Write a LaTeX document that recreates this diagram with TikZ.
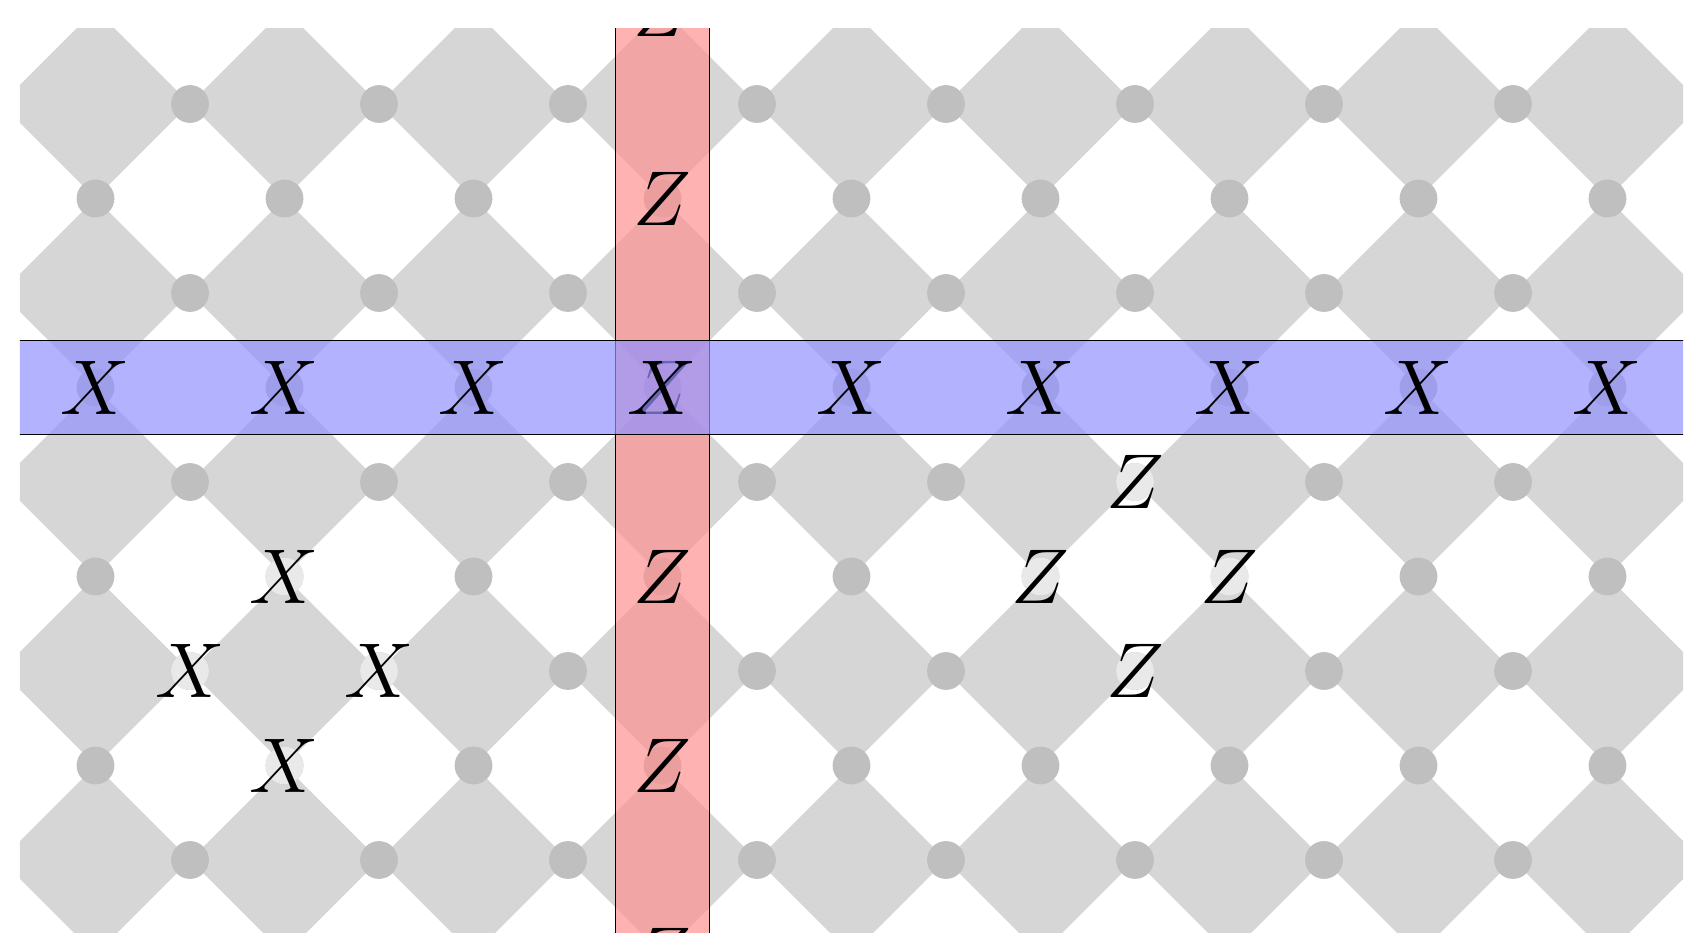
\documentclass[tikz,border=0pt]{standalone}
\usepackage{amsmath}
\usepackage{tikz}
\usetikzlibrary{positioning,calc}

\definecolor{facegray}{RGB}{214,214,214}
\definecolor{qubitgray}{RGB}{191,191,191}
\definecolor{markgray}{RGB}{233,233,233}
\definecolor{zstrip}{RGB}{255,145,145}
\definecolor{xstrip}{RGB}{145,145,255}

\newcommand{\pop}[1]{\scalebox{0.94}{\Huge$#1$}}

\begin{document}
\begin{tikzpicture}[
    x=1cm, y=-1cm,
    qubit/.style={circle, fill=qubitgray, minimum size=4mm, inner sep=0pt},
    markqubit/.style={circle, fill=markgray, minimum size=4mm, inner sep=0pt},
    pauli/.style={inner sep=0pt},
    strip/.style={draw=black, line width=0.4pt, fill opacity=0.7} % logical operator band
]

% --- Page and visible window ---
\useasboundingbox (-1.0106,-1.1005) rectangle (16.873,8.772);
\clip (-0.8,-0.8) rectangle (16.8,9.2);

% --- Gray plaquettes (checkerboard) ---
\foreach \a in {0,2,...,16}{
  \foreach \b in {0,2,...,8}{
    \fill[facegray] (\a-1,\b) -- (\a,\b-1) -- (\a+1,\b) -- (\a,\b+1) -- cycle;
  }
}

% --- Qubits on the corners ---
\foreach \a in {0,2,...,16}{
  \foreach \b in {1,3,...,7}{
    \node[qubit] (q-\a-\b) at (\a,\b) {};
  }
}
\foreach \a in {1,3,...,15}{
  \foreach \b in {0,2,...,8}{
    \node[qubit] (q-\a-\b) at (\a,\b) {};
  }
}

% --- X plaquette operator ---
\foreach \a/\b in {2/5,1/6,3/6,2/7}{
  \node[markqubit] (mx-\a-\b) at (q-\a-\b) {};
  \node[pauli] (px-\a-\b) at (q-\a-\b) {\pop{X}};
}

% --- Z plaquette operator ---
\foreach \a/\b in {11/4,10/5,12/5,11/6}{
  \node[markqubit] (mz-\a-\b) at (q-\a-\b) {};
  \node[pauli] (pz-\a-\b) at (q-\a-\b) {\pop{Z}};
}

% --- Vertical Z string ---
\draw[strip, fill=zstrip] (5.5,-1.5) rectangle (6.5,9.5);
\foreach \b in {-1,1,...,9}{
  \node[pauli] (zs-\b) at (6,\b) {\pop{Z}};
}

% --- Horizontal X string (on top) ---
\draw[strip, fill=xstrip] (-1.5,2.5) rectangle (17.5,3.5);
\foreach \a in {0,2,...,16}{
  \node[pauli] (xs-\a) at (q-\a-3) {\pop{X}};
}

\end{tikzpicture}
\end{document}
